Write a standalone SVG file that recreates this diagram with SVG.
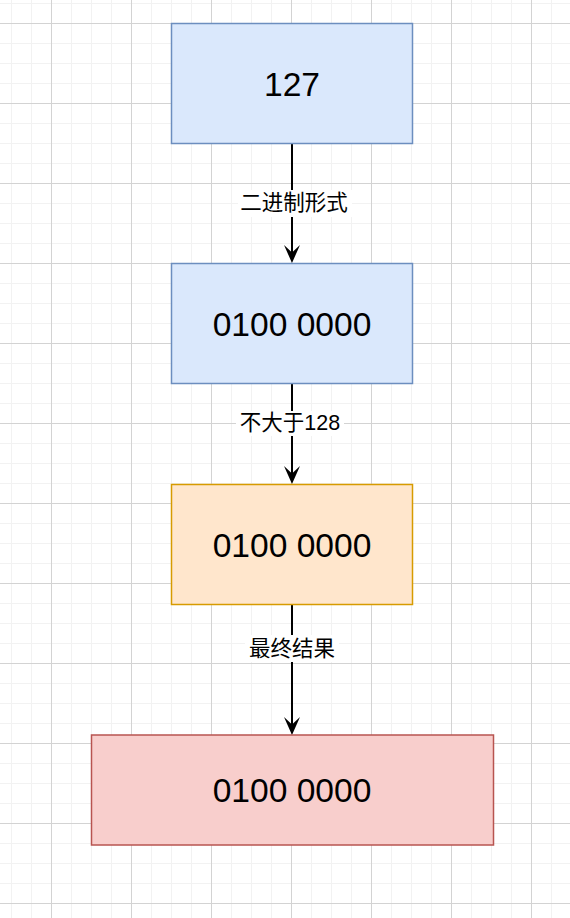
<svg xmlns="http://www.w3.org/2000/svg" width="570" height="918" viewBox="0 0 570 918">
  <defs>
    <pattern id="grid" patternUnits="userSpaceOnUse" x="51" y="23" width="80" height="80">
      <g stroke="#f2f2f2" stroke-width="1">
        <line x1="20.5" y1="0" x2="20.5" y2="80"/>
        <line x1="40.5" y1="0" x2="40.5" y2="80"/>
        <line x1="60.5" y1="0" x2="60.5" y2="80"/>
        <line x1="0" y1="20.5" x2="80" y2="20.5"/>
        <line x1="0" y1="40.5" x2="80" y2="40.5"/>
        <line x1="0" y1="60.5" x2="80" y2="60.5"/>
      </g>
      <g stroke="#d3d3d3" stroke-width="1">
        <line x1="0.5" y1="0" x2="0.5" y2="80"/>
        <line x1="0" y1="0.5" x2="80" y2="0.5"/>
      </g>
    </pattern>
    <marker id="arrow" markerUnits="userSpaceOnUse" viewBox="0 0 18 16" refX="10" refY="8" markerWidth="18" markerHeight="16" orient="auto">
      <path d="M18,8 L0,0 L7.5,8 L0,16 Z" fill="#000"/>
    </marker>
  </defs>
  <style>
    .box { stroke-width: 1.5; }
    .blue { fill: #dae8fc; stroke: #6c8ebf; }
    .orange { fill: #ffe6cc; stroke: #d79b00; }
    .red { fill: #f8cecc; stroke: #b85450; }
    .big { font-family: "Liberation Sans", Arial, sans-serif; font-size: 33.6px; fill: #000; text-anchor: middle; }
    .lbl { font-family: "Liberation Sans", "Noto Sans CJK SC", sans-serif; font-size: 21.5px; fill: #000; text-anchor: middle; }
    .edge { stroke: #000; stroke-width: 2; fill: none; }
    .lblbg { fill: #fff; }
  </style>
  <rect x="0" y="0" width="570" height="918" fill="#fff"/>
  <rect x="0" y="0" width="570" height="918" fill="url(#grid)"/>

  <g id="connectors">
    <g id="edge1">
      <path class="edge" d="M292,143.5 V255" marker-end="url(#arrow)"/>
      <rect class="lblbg" x="238" y="190" width="114" height="27"/>
      <text class="lbl" x="294" y="210">二进制形式</text>
    </g>
    <g id="edge2">
      <path class="edge" d="M292,383.5 V476" marker-end="url(#arrow)"/>
      <rect class="lblbg" x="236" y="411" width="108" height="25"/>
      <text class="lbl" x="290" y="430">不大于128</text>
    </g>
    <g id="edge3">
      <path class="edge" d="M292,604.5 V727" marker-end="url(#arrow)"/>
      <rect class="lblbg" x="245" y="635" width="94" height="27"/>
      <text class="lbl" x="292" y="656">最终结果</text>
    </g>
  </g>

  <g id="node1">
    <rect class="box blue" x="171.5" y="23.5" width="241" height="120"/>
    <text class="big" x="292" y="96">127</text>
  </g>
  <g id="node2">
    <rect class="box blue" x="171.5" y="263.5" width="241" height="120"/>
    <text class="big" x="292" y="335.5">0100 0000</text>
  </g>
  <g id="node3">
    <rect class="box orange" x="171.5" y="484.5" width="241" height="120"/>
    <text class="big" x="292" y="556.5">0100 0000</text>
  </g>
  <g id="node4">
    <rect class="box red" x="91.5" y="735" width="402" height="110"/>
    <text class="big" x="292" y="802">0100 0000</text>
  </g>
</svg>
